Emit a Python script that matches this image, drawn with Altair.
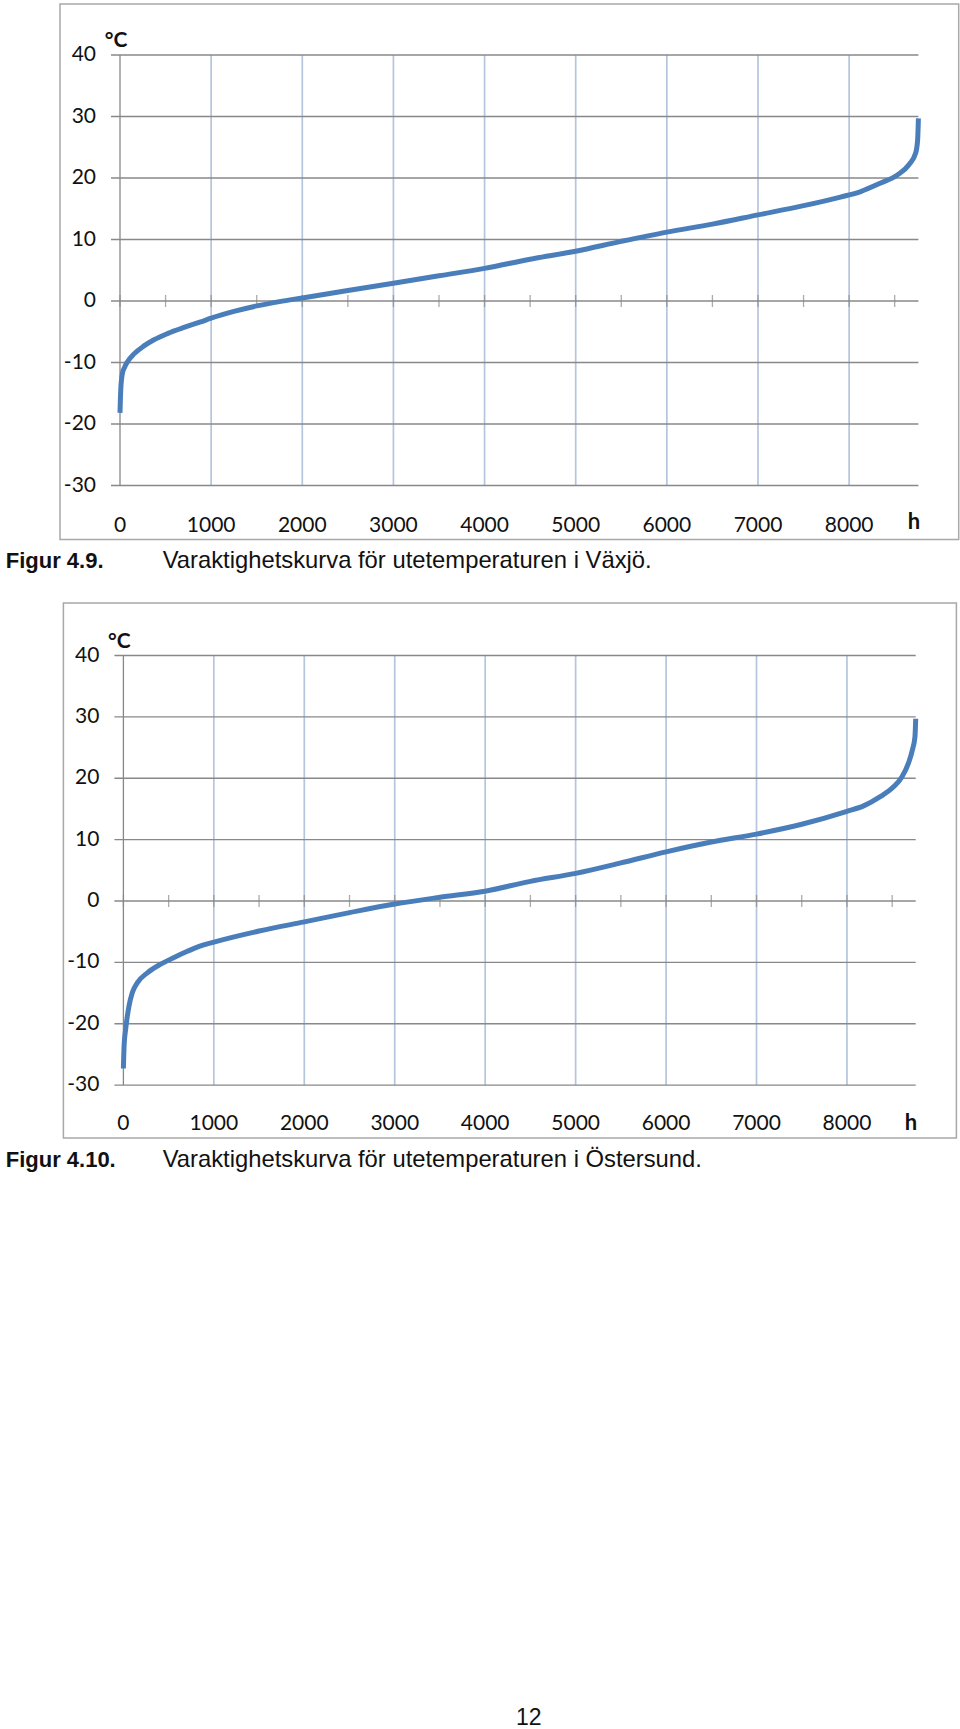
import altair as alt
import pandas as pd

# ---- data ----
hours_vaxjo = [0, 8, 26, 50, 81, 154, 263, 373, 520, 702, 885, 1000, 1250, 1500, 1750,
               2000, 2500, 3000, 3500, 4000, 4500, 5000, 5500, 6000, 6500, 7000, 7500,
               7905, 8127, 8347, 8530, 8658, 8731, 8752, 8760]
temp_vaxjo = [-18.2, -14.5, -11.8, -10.8, -9.9, -8.6, -7.3, -6.3, -5.3, -4.3, -3.4, -2.8, -1.7,
              -0.8, -0.1, 0.5, 1.7, 2.9, 4.1, 5.3, 6.8, 8.1, 9.7, 11.2, 12.5, 14.0, 15.5,
              16.9, 17.8, 19.2, 20.5, 22.2, 24.1, 26.3, 29.7]

hours_ostersund = [0, 8, 25, 62, 99, 155, 265, 412, 560, 707, 854, 1000, 1500, 2000, 2500,
                   3000, 3500, 4000, 4500, 5000, 5500, 6000, 6500, 7000, 7500, 8000, 8184,
                   8368, 8515, 8607, 8681, 8725, 8752, 8760]
temp_ostersund = [-27.3, -23.5, -20.9, -17.1, -14.9, -13.3, -11.7, -10.3, -9.2, -8.2, -7.3,
                  -6.7, -4.9, -3.4, -1.9, -0.5, 0.6, 1.6, 3.2, 4.5, 6.2, 8.0, 9.6, 10.9, 12.5,
                  14.6, 15.5, 17.0, 18.6, 20.2, 22.5, 24.7, 26.8, 29.7]

y_ticks = [-30, -20, -10, 0, 10, 20, 30, 40]
y_tick_labels = ["-30", "-20", "-10", "0", "10", "20", "30", "40"]
x_label_values = [0, 1000, 2000, 3000, 4000, 5000, 6000, 7000, 8000]
x_label_texts = ["0", "1000", "2000", "3000", "4000", "5000", "6000", "7000", "8000"]
x_grid = [1000, 2000, 3000, 4000, 5000, 6000, 7000, 8000]
x_minor = [0, 500, 1000, 1500, 2000, 2500, 3000, 3500, 4000, 4500, 5000, 5500, 6000,
           6500, 7000, 7500, 8000, 8500]

fig_labels = ["Figur 4.9.", "Figur 4.10."]
captions = ["Varaktighetskurva för utetemperaturen i Växjö.",
            "Varaktighetskurva för utetemperaturen i Östersund."]
unit_label = "°C"
hour_label = "h"
page_number = "12"

LINE = "#4a7ebb"
GRID_H = "#888888"
GRID_V = "#b5c5de"
FRAME = "#a8a8a8"
AXFONT = "Lato"
CAPFONT = "Liberation Sans"


def panel(hours, temps, W, H, geo, fig_label, caption, extra=None):
    d = geo["dx"]  # horizontal offset of this panel's plot area inside its cell
    xs = alt.Scale(domain=[0, 8760], range=[d, d + W], nice=False, zero=False)
    ys = alt.Scale(domain=[-30, 40], nice=False, zero=False)
    one = pd.DataFrame({"k": [0]})

    frame = alt.Chart(one).mark_rect(fill="transparent", stroke=FRAME, strokeWidth=1.5).encode(
        x=alt.value(d + geo["fx1"]), x2=alt.value(d + W + geo["fx2"]),
        y=alt.value(geo["fy1"]), y2=alt.value(H + geo["fy2"]))

    vgrid = alt.Chart(pd.DataFrame({"h": x_grid})).mark_rule(
        color=GRID_V, strokeWidth=1.7).encode(
        x=alt.X("h:Q", scale=xs, axis=None), y=alt.value(0), y2=alt.value(H))

    hgrid = alt.Chart(pd.DataFrame({"t": y_ticks})).mark_rule(
        color=GRID_H, strokeWidth=1.3).encode(
        y=alt.Y("t:Q", scale=ys, axis=None), x=alt.value(d - 9), x2=alt.value(d + W))

    yaxis = alt.Chart(one).mark_rule(color=GRID_H, strokeWidth=1.3).encode(
        x=alt.value(d), y=alt.value(0), y2=alt.value(H))

    ticks = alt.Chart(pd.DataFrame({"h": x_minor, "t": [0] * len(x_minor)})).mark_tick(
        orient="vertical", size=12, thickness=1.3, color=GRID_H).encode(
        x=alt.X("h:Q", scale=xs, axis=None), y=alt.Y("t:Q", scale=ys, axis=None))

    line = alt.Chart(pd.DataFrame({"h": hours, "t": temps})).mark_line(
        color=LINE, strokeWidth=5, interpolate="monotone").encode(
        x=alt.X("h:Q", scale=xs, axis=None), y=alt.Y("t:Q", scale=ys, axis=None))

    ylab = alt.Chart(pd.DataFrame({"t": y_ticks, "lab": y_tick_labels})).mark_text(
        align="right", baseline="middle", font=AXFONT, fontSize=21, color="#111111").encode(
        y=alt.Y("t:Q", scale=ys, axis=None), x=alt.value(d - 24), text=alt.Text("lab:N"))

    xlab = alt.Chart(pd.DataFrame({"h": x_label_values, "lab": x_label_texts})).mark_text(
        align="center", baseline="middle", font=AXFONT, fontSize=21, color="#111111").encode(
        x=alt.X("h:Q", scale=xs, axis=None), y=alt.value(H + geo["xly"]), text=alt.Text("lab:N"))

    unit = alt.Chart(one).mark_text(
        text=unit_label, align="center", baseline="middle", font=AXFONT, fontSize=21,
        fontWeight="bold", color="#111111").encode(
        x=alt.value(d - 4), y=alt.value(geo["uy"]))

    hl = alt.Chart(one).mark_text(
        text=hour_label, align="center", baseline="middle", font=AXFONT, fontSize=22,
        fontWeight="bold", color="#111111").encode(
        x=alt.value(d + geo["hx"]), y=alt.value(H + geo["hy"]))

    fig = alt.Chart(one).mark_text(
        text=fig_label, align="left", baseline="middle", font=CAPFONT, fontSize=22,
        fontWeight="bold", color="#111111").encode(
        x=alt.value(d + geo["figx"]), y=alt.value(H + 75))

    cap = alt.Chart(one).mark_text(
        text=caption, align="left", baseline="middle", font=CAPFONT, fontSize=23.8,
        color="#111111").encode(
        x=alt.value(d + geo["capx"]), y=alt.value(H + 75))

    layers = [frame, vgrid, hgrid, yaxis, ticks, line, ylab, xlab, unit, hl, fig, cap]
    if extra is not None:
        layers.append(extra)
    return alt.layer(*layers).properties(width=W + d, height=H)


W1, H1 = 798.4, 430.5
W2, H2 = 792.3, 429.6

geo1 = {"dx": 0, "fx1": -60, "fx2": 40.3, "fy1": -51, "fy2": 54, "xly": 40, "uy": -14,
        "hx": 794, "hy": 36.5, "figx": -114.3, "capx": 42.7}
geo2 = {"dx": 3.4, "fx1": -60, "fx2": 40.7, "fy1": -52.4, "fy2": 53, "xly": 39, "uy": -14,
        "hx": 787.5, "hy": 38, "figx": -117.7, "capx": 39.3}

page = alt.Chart(pd.DataFrame({"k": [0]})).mark_text(
    text=page_number, align="center", baseline="alphabetic", font=CAPFONT, fontSize=23,
    color="#111111").encode(x=alt.value(408.7), y=alt.value(1069.5))

p1 = panel(hours_vaxjo, temp_vaxjo, W1, H1, geo1, fig_labels[0], captions[0])
p2 = panel(hours_ostersund, temp_ostersund, W2, H2, geo2, fig_labels[1], captions[1], extra=page)

chart = alt.vconcat(p1, p2, spacing=28.5).properties(
    padding={"left": 5, "top": 3, "right": 0, "bottom": 0},
    background="white",
).configure_view(strokeWidth=0)

chart.save("out.html", embed_options={"renderer": "svg", "actions": False})
